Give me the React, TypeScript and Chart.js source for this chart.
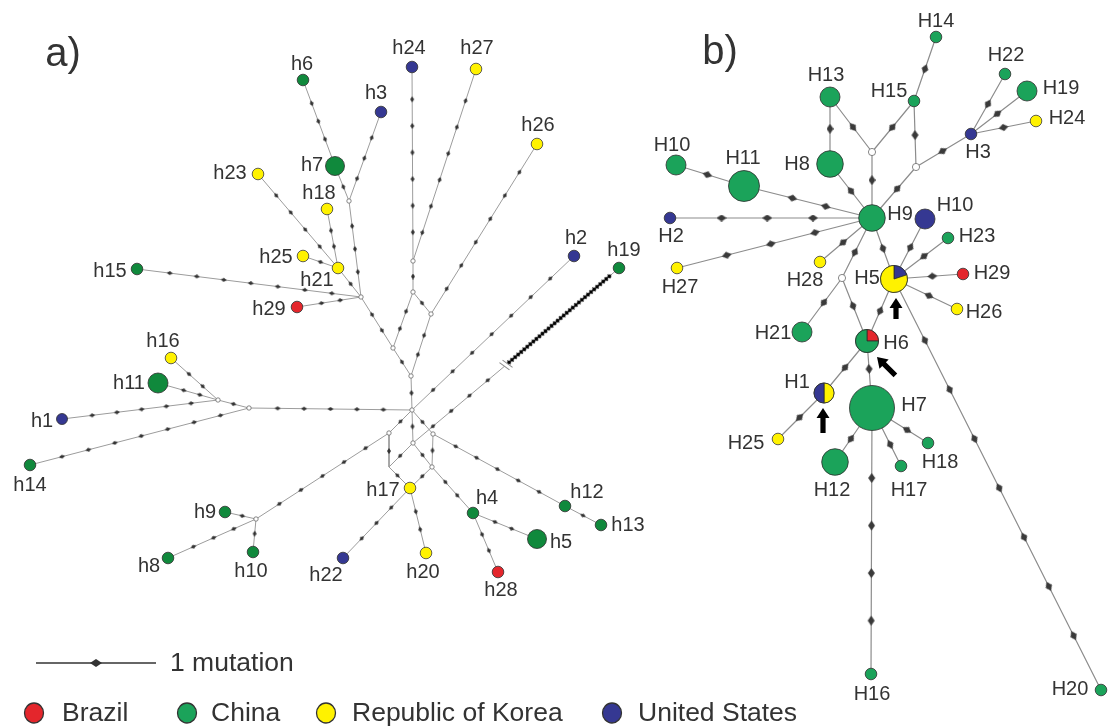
import React, { useEffect, useRef } from "react";
import { Chart, registerables } from "chart.js";

Chart.register(...registerables);

const W = 1108;
const H = 726;

// ---------- Panel a : haplotypes [id, x, y, radius, country]
const hapA: [string, number, number, number, string][] = [
  ["h1", 62, 419, 5.5, "US"],
  ["h2", 574, 256, 5.8, "US"],
  ["h3", 381, 112, 5.8, "US"],
  ["h4", 473, 513, 5.8, "CN"],
  ["h5", 537, 539, 9.5, "CN"],
  ["h6", 303, 80, 5.8, "CN"],
  ["h7", 335, 166, 9.5, "CN"],
  ["h8", 168, 558, 5.8, "CN"],
  ["h9", 225, 512, 5.8, "CN"],
  ["h10", 253, 552, 5.8, "CN"],
  ["h11", 158, 383, 10, "CN"],
  ["h12", 565, 506, 5.8, "CN"],
  ["h13", 601, 525, 5.8, "CN"],
  ["h14", 30, 465, 5.8, "CN"],
  ["h15", 137, 269, 5.8, "CN"],
  ["h16", 171, 358, 5.8, "KR"],
  ["h17", 410, 488, 5.8, "KR"],
  ["h18", 327, 209, 5.8, "KR"],
  ["h19", 619, 268, 5.8, "CN"],
  ["h20", 426, 553, 5.8, "KR"],
  ["h21", 338, 268, 5.8, "KR"],
  ["h22", 343, 558, 5.8, "US"],
  ["h23", 258, 174, 5.8, "KR"],
  ["h24", 412, 67, 5.8, "US"],
  ["h25", 303, 256, 5.8, "KR"],
  ["h26", 537, 144, 5.8, "KR"],
  ["h27", 476, 69, 5.8, "KR"],
  ["h28", 498, 572, 5.8, "BR"],
  ["h29", 297, 307, 5.8, "BR"],
];

// median vectors [id, x, y, visible]
const medA: [string, number, number, number][] = [
  ["a1", 349, 201, 1],
  ["a2", 361, 297, 1],
  ["a3", 413, 261, 1],
  ["a4", 413, 292, 1],
  ["a5", 431, 314, 1],
  ["a6", 393, 348, 1],
  ["a7", 411, 376, 1],
  ["a8", 412, 410, 1],
  ["a9", 389, 433, 1],
  ["a10", 413, 443, 1],
  ["a11", 433, 434, 1],
  ["a12", 432, 467, 1],
  ["a13", 389, 467, 0],
  ["a14", 249, 408, 1],
  ["a15", 218, 400, 1],
  ["a16", 256, 519, 1],
  ["brk", 506, 365, 0],
];

// edges [from, to, mutations, dense]
const edgesA: [string, string, number, number][] = [
  ["h6", "h7", 3, 0],
  ["h7", "a1", 1, 0],
  ["a1", "h3", 3, 0],
  ["a1", "a2", 3, 0],
  ["a2", "h21", 1, 0],
  ["h21", "h25", 1, 0],
  ["h21", "h18", 2, 0],
  ["h21", "h23", 4, 0],
  ["a2", "h15", 7, 0],
  ["a2", "h29", 2, 0],
  ["a2", "a6", 2, 0],
  ["a6", "a7", 1, 0],
  ["a6", "a4", 2, 0],
  ["a4", "a3", 1, 0],
  ["a3", "h24", 6, 0],
  ["a3", "h27", 6, 0],
  ["a4", "a5", 1, 0],
  ["a5", "h26", 6, 0],
  ["a5", "a7", 2, 0],
  ["a7", "a8", 1, 0],
  ["a8", "h2", 7, 0],
  ["a8", "a14", 5, 0],
  ["a14", "a15", 1, 0],
  ["a15", "h16", 2, 0],
  ["a15", "h11", 2, 0],
  ["a15", "h1", 5, 0],
  ["a14", "h14", 7, 0],
  ["a8", "a9", 1, 0],
  ["a8", "a10", 1, 0],
  ["a8", "a11", 1, 0],
  ["a9", "a13", 1, 0],
  ["a10", "a13", 1, 0],
  ["a13", "h17", 1, 0],
  ["a10", "a12", 1, 0],
  ["a11", "a12", 1, 0],
  ["a12", "h17", 1, 0],
  ["a12", "h4", 2, 0],
  ["h4", "h5", 2, 0],
  ["h4", "h28", 2, 0],
  ["a11", "h12", 5, 0],
  ["h12", "h13", 1, 0],
  ["h17", "h22", 3, 0],
  ["h17", "h20", 2, 0],
  ["a9", "a16", 5, 0],
  ["a16", "h9", 1, 0],
  ["a16", "h10", 1, 0],
  ["a16", "h8", 3, 0],
  ["a10", "brk", 4, 0],
  ["brk", "h19", 34, 1],
];

// ---------- Panel b
const hapB: [string, number, number, number, string][] = [
  ["H1", 824, 393, 10, "MIX"],
  ["H2", 670, 218, 5.8, "US"],
  ["H3", 971, 134, 5.8, "US"],
  ["H5", 894, 279, 13.5, "MIX"],
  ["H6", 867, 341, 11.5, "MIX"],
  ["H7", 872, 408, 22.5, "CN"],
  ["H8", 830, 164, 13.3, "CN"],
  ["H9", 872, 218, 13.3, "CN"],
  ["H10", 676, 165, 10, "CN"],
  ["H10*", 925, 219, 10, "US"],
  ["H11", 744, 186, 15.5, "CN"],
  ["H12", 835, 462, 13.3, "CN"],
  ["H13", 830, 97, 10, "CN"],
  ["H14", 936, 37, 5.8, "CN"],
  ["H15", 914, 101, 5.8, "CN"],
  ["H16", 871, 674, 5.8, "CN"],
  ["H17", 901, 466, 5.8, "CN"],
  ["H18", 928, 443, 5.8, "CN"],
  ["H19", 1027, 91, 10, "CN"],
  ["H20", 1101, 690, 5.8, "CN"],
  ["H21", 802, 332, 10, "CN"],
  ["H22", 1005, 74, 5.8, "CN"],
  ["H23", 948, 238, 5.8, "CN"],
  ["H24", 1036, 121, 5.8, "KR"],
  ["H25", 778, 439, 5.8, "KR"],
  ["H26", 957, 309, 5.8, "KR"],
  ["H27", 677, 268, 5.8, "KR"],
  ["H28", 820, 262, 5.8, "KR"],
  ["H29", 963, 274, 5.8, "BR"],
];

const medB: [string, number, number, number][] = [
  ["b1", 872, 152, 1],
  ["b2", 916, 167, 1],
  ["b3", 842, 278, 1],
];

// shared haplotypes: [id, [country, fraction] clockwise from 12 o'clock]
const piesB: [string, [string, number][]][] = [
  ["H1", [["KR", 0.5], ["US", 0.5]]],
  ["H5", [["US", 0.2], ["KR", 0.8]]],
  ["H6", [["BR", 0.25], ["CN", 0.75]]],
];

const edgesB: [string, string, number, number][] = [
  ["H10", "H11", 1, 0],
  ["H11", "H9", 2, 0],
  ["H2", "H9", 3, 0],
  ["H27", "H9", 3, 0],
  ["H28", "H9", 1, 0],
  ["b3", "H9", 1, 0],
  ["H8", "H9", 1, 0],
  ["H8", "H13", 1, 0],
  ["H13", "b1", 1, 0],
  ["b1", "H15", 1, 0],
  ["b1", "H9", 1, 0],
  ["H15", "H14", 1, 0],
  ["H15", "b2", 1, 0],
  ["b2", "H9", 1, 0],
  ["b2", "H3", 1, 0],
  ["H3", "H22", 1, 0],
  ["H3", "H19", 1, 0],
  ["H3", "H24", 1, 0],
  ["H9", "H5", 1, 0],
  ["H5", "H10*", 1, 0],
  ["H5", "H23", 1, 0],
  ["H5", "H29", 1, 0],
  ["H5", "H26", 1, 0],
  ["H5", "H6", 1, 0],
  ["b3", "H21", 1, 0],
  ["b3", "H6", 1, 0],
  ["H5", "H20", 7, 0],
  ["H6", "H1", 1, 0],
  ["H6", "H7", 1, 0],
  ["H1", "H25", 1, 0],
  ["H7", "H12", 1, 0],
  ["H7", "H17", 1, 0],
  ["H7", "H18", 1, 0],
  ["H7", "H16", 4, 0],
];

const countries: [string, string][] = [
  ["BR", "Brazil"],
  ["CN", "China"],
  ["KR", "Republic of Korea"],
  ["US", "United States"],
];

// ---------- styling (label offsets, colours)
const labelA: Record<string, [number, number]> = {
  h1: [-20, 2], h2: [2, -18], h3: [-5, -19], h4: [14, -15], h5: [24, 3],
  h6: [-1, -16], h7: [-23, -1], h8: [-19, 8], h9: [-20, 0], h10: [-2, 19],
  h11: [-29, 0], h12: [22, -14], h13: [27, 0], h14: [0, 20], h15: [-27, 2],
  h16: [-8, -17], h17: [-27, 2], h18: [-8, -16], h19: [5, -18], h20: [-3, 19],
  h21: [-21, 12], h22: [-17, 17], h23: [-28, -1], h24: [-3, -19], h25: [-27, 1],
  h26: [1, -19], h27: [1, -21], h28: [3, 18], h29: [-28, 2],
};
const labelB: Record<string, [number, number]> = {
  H1: [-27, -11], H2: [1, 18], H3: [7, 18], H5: [-27, -1], H6: [29, 2],
  H7: [42, -3], H8: [-33, 0], H9: [28, -4], H10: [-4, -20], "H10*": [30, -14],
  H11: [-1, -28], H12: [-3, 28], H13: [-4, -22], H14: [0, -16], H15: [-25, -10],
  H16: [1, 20], H17: [8, 24], H18: [12, 19], H19: [34, -3], H20: [-31, -1],
  H21: [-29, 1], H22: [1, -19], H23: [29, -2], H24: [31, -3], H25: [-32, 4],
  H26: [27, 3], H27: [3, 19], H28: [-15, 18], H29: [29, -1],
};
const arrowsB: [number, number, number, number][] = [
  [896, 298, 0, 21],
  [877, 357, -45, 26],
  [823, 408, 0, 25],
];

const BASE: Record<string, string> = { BR: "#e4262c", KR: "#fff200", US: "#353892" };
const GREEN_A = "#10893c";
const GREEN_B = "#1ba35a";
const colA = (c: string) => (c === "CN" ? GREEN_A : BASE[c]);
const colB = (c: string) => (c === "CN" ? GREEN_B : BASE[c] || GREEN_B);
const FONT = '"Liberation Sans", Arial, Helvetica, sans-serif';

type N = { x: number; y: number; r: number };
function index(haps: [string, number, number, number, string][], meds: [string, number, number, number][], mr: number) {
  const m: Record<string, N> = {};
  haps.forEach(([id, x, y, r]) => (m[id] = { x, y, r }));
  meds.forEach(([id, x, y, v]) => (m[id] = { x, y, r: v ? mr : 0 }));
  return m;
}
const idxA = index(hapA, medA, 2.2);
const idxB = index(hapB, medB, 3.6);

function edgeLine(edges: [string, string, number, number][], idx: Record<string, N>) {
  const pts: { x: number; y: number | null }[] = [];
  edges.forEach(([a, b]) => {
    pts.push({ x: idx[a].x, y: idx[a].y }, { x: idx[b].x, y: idx[b].y }, { x: idx[b].x, y: null });
  });
  return pts;
}

function markers(edges: [string, string, number, number][], idx: Record<string, N>, dense: number) {
  const pts: { x: number; y: number }[] = [];
  const rot: number[] = [];
  edges.forEach(([a, b, n, d]) => {
    if (!n || d !== dense) return;
    const A = idx[a], B = idx[b];
    const dx = B.x - A.x, dy = B.y - A.y, L = Math.hypot(dx, dy);
    const ux = dx / L, uy = dy / L;
    const s = A.r, e = L - B.r - (dense ? 3 : 0);
    const ang = (Math.atan2(dy, dx) * 180) / Math.PI;
    for (let k = 1; k <= n; k++) {
      const t = s + ((e - s) * k) / (n + 1);
      pts.push({ x: A.x + ux * t, y: A.y + uy * t });
      rot.push(ang);
    }
  });
  return { pts, rot };
}

function nodeSet(haps: [string, number, number, number, string][], meds: [string, number, number, number][], idx: Record<string, N>, col: (c: string) => string) {
  const data: { x: number; y: number }[] = [];
  const r: number[] = [], bg: string[] = [], bd: string[] = [], bw: number[] = [];
  haps.forEach(([id, x, y, rad, c]) => {
    data.push({ x, y });
    r.push(rad);
    bg.push(col(c));
    bd.push(c === "KR" ? "#3a3a3a" : "#2f2f2f");
    bw.push(0.8);
  });
  meds.forEach(([id, x, y]) => {
    data.push({ x, y });
    r.push(idx[id].r || 0.01);
    bg.push(idx[id].r ? "#ffffff" : "rgba(0,0,0,0)");
    bd.push(idx[id].r ? "#6a6a6a" : "rgba(0,0,0,0)");
    bw.push(0.8);
  });
  return { data, r, bg, bd, bw };
}

function rhombus(w: number, h: number, color: string) {
  const c = document.createElement("canvas");
  c.width = w;
  c.height = h;
  const g = c.getContext("2d")!;
  g.fillStyle = color;
  g.beginPath();
  g.moveTo(0, h / 2);
  g.lineTo(w / 2, 0);
  g.lineTo(w, h / 2);
  g.lineTo(w / 2, h);
  g.closePath();
  g.fill();
  return c;
}

const overlay = {
  id: "overlay",
  afterDatasetsDraw(chart: any) {
    const ctx: CanvasRenderingContext2D = chart.ctx;
    const X = (v: number) => chart.scales.x.getPixelForValue(v);
    const Y = (v: number) => chart.scales.y.getPixelForValue(v);

    // break mark on the long h19 branch
    {
      const a = idxA["a10"], b = idxA["brk"];
      const ang = Math.atan2(b.y - a.y, b.x - a.x);
      ctx.save();
      ctx.translate(X(b.x), Y(b.y));
      ctx.rotate(ang);
      ctx.fillStyle = "#fff";
      ctx.fillRect(-2, -2, 4, 4);
      ctx.strokeStyle = "#8a8a8a";
      ctx.lineWidth = 1;
      for (const o of [-2, 2]) {
        ctx.beginPath();
        ctx.moveTo(o - 1.5, -6);
        ctx.lineTo(o + 1.5, 6);
        ctx.stroke();
      }
      ctx.restore();
    }

    // pie haplotypes
    for (const [id, parts] of piesB) {
      const n = idxB[id];
      const cx = X(n.x), cy = Y(n.y);
      let a0 = -Math.PI / 2;
      for (const [c, f] of parts) {
        const a1 = a0 + f * 2 * Math.PI;
        ctx.beginPath();
        ctx.moveTo(cx, cy);
        ctx.arc(cx, cy, n.r, a0, a1);
        ctx.closePath();
        ctx.fillStyle = colB(c);
        ctx.fill();
        ctx.strokeStyle = "#2f2f2f";
        ctx.lineWidth = 0.8;
        ctx.stroke();
        a0 = a1;
      }
    }

    // labels
    ctx.save();
    ctx.fillStyle = "#333";
    ctx.font = `20px ${FONT}`;
    ctx.textAlign = "center";
    ctx.textBaseline = "middle";
    hapA.forEach(([id, x, y]) => {
      const o = labelA[id];
      ctx.fillText(id, X(x + o[0]), Y(y + o[1]));
    });
    hapB.forEach(([id, x, y]) => {
      const o = labelB[id];
      ctx.fillText(id.replace("*", ""), X(x + o[0]), Y(y + o[1]));
    });
    ctx.restore();

    // arrows
    for (const [tx, ty, deg, len] of arrowsB) {
      ctx.save();
      ctx.translate(X(tx), Y(ty));
      ctx.rotate((deg * Math.PI) / 180);
      ctx.beginPath();
      ctx.moveTo(0, 0);
      ctx.lineTo(6.5, 10);
      ctx.lineTo(2.6, 10);
      ctx.lineTo(2.6, len);
      ctx.lineTo(-2.6, len);
      ctx.lineTo(-2.6, 10);
      ctx.lineTo(-6.5, 10);
      ctx.closePath();
      ctx.fillStyle = "#000";
      ctx.fill();
      ctx.restore();
    }

    // panel letters
    ctx.save();
    ctx.fillStyle = "#333";
    ctx.font = `40px ${FONT}`;
    ctx.textAlign = "center";
    ctx.textBaseline = "alphabetic";
    ctx.fillText("a)", 63, 66);
    ctx.fillText("b)", 720, 64);
    ctx.restore();

    // mutation scale
    ctx.save();
    ctx.strokeStyle = "#333";
    ctx.lineWidth = 1.6;
    ctx.beginPath();
    ctx.moveTo(36, 663);
    ctx.lineTo(156, 663);
    ctx.stroke();
    ctx.fillStyle = "#333";
    ctx.beginPath();
    ctx.moveTo(90, 663);
    ctx.lineTo(96, 659);
    ctx.lineTo(102, 663);
    ctx.lineTo(96, 667);
    ctx.closePath();
    ctx.fill();
    ctx.font = `26.5px ${FONT}`;
    ctx.textAlign = "left";
    ctx.textBaseline = "middle";
    ctx.fillText("1 mutation", 170, 664);
    ctx.restore();

    // country legend
    const cxs = [34, 187, 326, 612];
    const txs = [62, 211, 352, 638];
    countries.forEach(([c, name], i) => {
      ctx.save();
      ctx.beginPath();
      ctx.ellipse(cxs[i], 713, 9.5, 10, 0, 0, Math.PI * 2);
      ctx.fillStyle = c === "CN" ? GREEN_B : BASE[c];
      ctx.fill();
      ctx.strokeStyle = "#333";
      ctx.lineWidth = 1.3;
      ctx.stroke();
      ctx.fillStyle = "#333";
      ctx.font = `26.5px ${FONT}`;
      ctx.textAlign = "left";
      ctx.textBaseline = "middle";
      ctx.fillText(name, txs[i], 714);
      ctx.restore();
    });
  },
};

export default function App() {
  const ref = useRef<HTMLCanvasElement>(null);
  useEffect(() => {
    const canvas = ref.current!;
    const dA = rhombus(6, 4, "#333333");
    const dB = rhombus(10, 7, "#3a3a3a");
    const dD = rhombus(5, 5, "#000000");
    const mA = markers(edgesA, idxA, 0);
    const mD = markers(edgesA, idxA, 1);
    const mB = markers(edgesB, idxB, 0);
    const nA = nodeSet(hapA, medA, idxA, colA);
    const nB = nodeSet(hapB, medB, idxB, colB);

    const datasets: any[] = [
      {
        data: edgeLine(edgesA, idxA),
        showLine: true,
        borderColor: "#9c9c9c",
        borderWidth: 1,
        pointRadius: 0,
        spanGaps: false,
        order: 5,
      },
      {
        data: edgeLine(edgesB, idxB),
        showLine: true,
        borderColor: "#8c8c8c",
        borderWidth: 1.2,
        pointRadius: 0,
        spanGaps: false,
        order: 5,
      },
      { data: mA.pts, pointStyle: dA, pointRotation: mA.rot, pointRadius: 3, order: 4 },
      { data: mD.pts, pointStyle: dD, pointRotation: mD.rot, pointRadius: 3, order: 4 },
      { data: mB.pts, pointStyle: dB, pointRotation: mB.rot, pointRadius: 4, order: 4 },
      {
        data: nA.data,
        pointStyle: "circle",
        pointRadius: nA.r,
        pointBackgroundColor: nA.bg,
        pointBorderColor: nA.bd,
        pointBorderWidth: nA.bw,
        order: 1,
      },
      {
        data: nB.data,
        pointStyle: "circle",
        pointRadius: nB.r,
        pointBackgroundColor: nB.bg,
        pointBorderColor: nB.bd,
        pointBorderWidth: nB.bw,
        order: 1,
      },
    ];
    datasets.forEach((d) => (d.clip = false));

    const chart = new Chart(canvas, {
      type: "scatter",
      data: { datasets },
      options: {
        responsive: false,
        animation: false,
        devicePixelRatio: 1,
        events: [],
        layout: { padding: 0, autoPadding: false },
        plugins: { legend: { display: false }, tooltip: { enabled: false } },
        scales: {
          x: { type: "linear", min: 0, max: W, display: false },
          y: { type: "linear", min: 0, max: H, reverse: true, display: false },
        },
      },
      plugins: [overlay],
    } as any);
    return () => chart.destroy();
  }, []);

  return (
    <div style={{ position: "absolute", left: 0, top: 0, width: W, height: H, background: "#fff" }}>
      <canvas ref={ref} width={W} height={H} style={{ display: "block", width: W, height: H }} />
    </div>
  );
}
